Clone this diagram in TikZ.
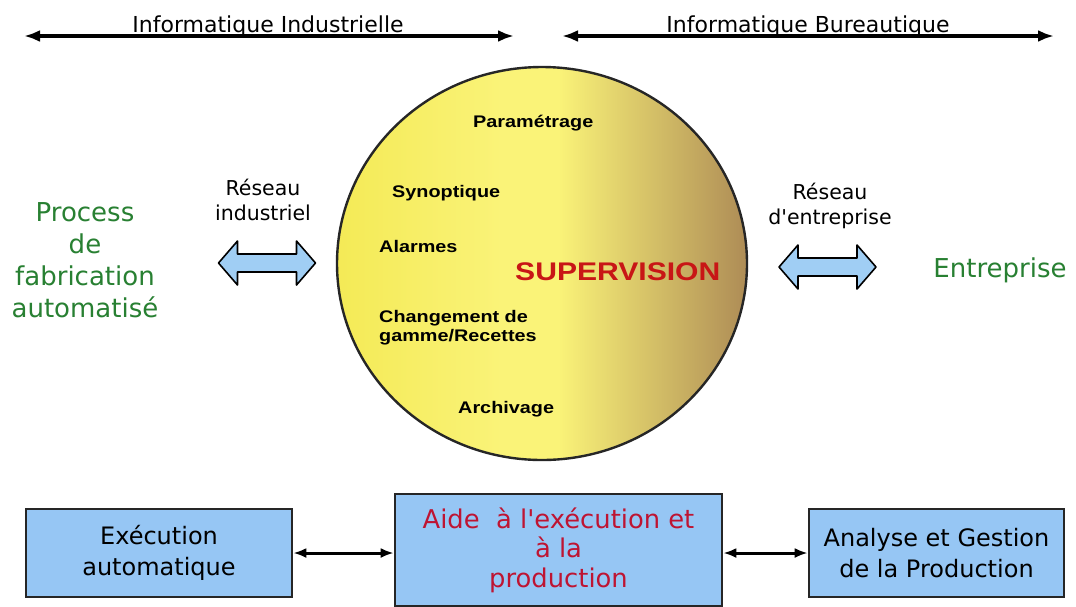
\documentclass[tikz,border=0pt]{standalone}
\usepackage{fontspec}
\setmainfont{DejaVu Sans}[Ligatures=TeXOff]
\newfontfamily\arialwide{Liberation Sans}[FakeStretch=1.18]
\usetikzlibrary{arrows.meta,shapes.geometric}

\definecolor{boxblue}{RGB}{150,198,244}
\definecolor{arrowblue}{RGB}{160,206,244}
\definecolor{txtgreen}{RGB}{40,128,50}
\definecolor{txtred}{RGB}{190,20,50}
\definecolor{supred}{RGB}{200,22,22}
\definecolor{sunleft}{RGB}{244,234,86}
\definecolor{sunmid}{RGB}{250,243,120}
\definecolor{sunright}{RGB}{174,140,86}

% yellow on the left half, turning gold-brown towards the right rim
\pgfdeclarehorizontalshading{supshade}{100bp}{%
  color(0bp)=(sunleft); color(25bp)=(sunleft); color(45bp)=(sunmid);
  color(52bp)=(sunmid); color(75bp)=(sunright); color(100bp)=(sunright)}

\tikzset{
  hdr/.style={font=\fontsize{22}{26}\selectfont, anchor=base, inner sep=0},
  net/.style={font=\fontsize{20.5}{25}\selectfont, align=center, inner sep=0},
  side/.style={font=\fontsize{26}{32}\selectfont, text=txtgreen, align=center, inner sep=0},
  inner/.style={font=\arialwide\bfseries\fontsize{16.8}{19.5}\selectfont, anchor=base west, inner sep=0},
  box/.style={draw=black!85, line width=2.6, fill=boxblue, align=center, inner sep=0,
    font=\fontsize{24}{31.5}\selectfont},
  span/.style={{Latex[length=16,width=12]}-{Latex[length=16,width=12]}, line width=3.4},
  conn/.style={{Latex[length=13,width=10]}-{Latex[length=13,width=10]}, line width=3},
  blockarrow/.pic={
    \draw[line width=1.6, fill=arrowblue, line join=round]
      (-48.5,0) -- (-29.5,-22) -- (-29.5,-9) -- (29.5,-9) -- (29.5,-22)
      -- (48.5,0) -- (29.5,22) -- (29.5,9) -- (-29.5,9) -- (-29.5,22) -- cycle;
  }
}

\begin{document}
\begin{tikzpicture}[x=1pt, y=-1pt]
\useasboundingbox (0,0) rectangle (1076,606);
\fill[white] (0,0) rectangle (1076,606);

% domain spans along the top
\coordinate (il) at (24,36);
\coordinate (ir) at (514,36);
\coordinate (bl) at (562,36);
\coordinate (br) at (1054,36);
\draw[span] (il) -- (ir);
\draw[span] (bl) -- (br);
\node[hdr] (indus) at (268,32) {Informatique Industrielle};
\node[hdr] (bureau) at (808,32) {Informatique Bureautique};

% supervision disc
\node[ellipse, draw=black!85, line width=2.4, shading=supshade,
      minimum width=410, minimum height=393, inner sep=0] (sup) at (542,263.5) {};

\node[inner] (param) at (473,127) {Paramétrage};
\node[inner] (synop) at (392,197) {Synoptique};
\node[inner] (alarm) at (379,252) {Alarmes};
\node[inner, align=left, anchor=north west] (recet) at (379,310) {Changement de\\gamme/Recettes};
\node[inner] (archi) at (458,413) {Archivage};
\node[font=\arialwide\bfseries\fontsize{25.5}{30}\selectfont, text=supred,
      anchor=base west, inner sep=0] (supt) at (515,280) {SUPERVISION};

% plant side
\node[side] (process) at (85,260) {Process\\de\\fabrication\\automatisé};
\node[net] (resind) at (263,200) {Réseau\\industriel};
\pic at (267,263) {blockarrow};

% company side
\node[side, anchor=base] (entre) at (1000,277) {Entreprise};
\node[net] (resent) at (830,206) {Réseau\\d'entreprise};
\pic at (827.5,267) {blockarrow};

% production levels
\node[box, minimum width=266, minimum height=88] (exec) at (159,553) {Exécution\\automatique};
\node[box, minimum width=327, minimum height=112, text=txtred,
      font=\fontsize{25.8}{29.5}\selectfont] (aide) at (558.5,550)
      {Aide\ \ à l'exécution et\\à la\\production};
\node[box, minimum width=255, minimum height=88] (gest) at (936.5,553)
      {Analyse et Gestion\\de la Production};

\draw[conn] (exec.east) -- (exec.east -| aide.west);
\draw[conn] (gest.west -| aide.east) -- (gest.west);
\end{tikzpicture}
\end{document}
